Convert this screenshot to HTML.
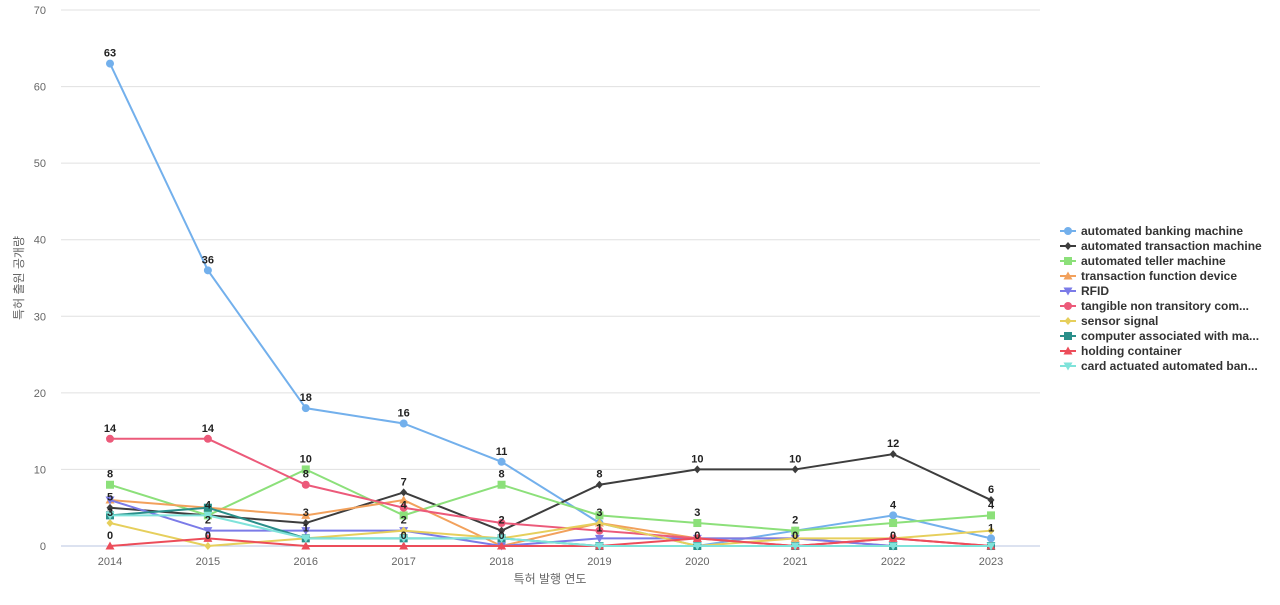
<!DOCTYPE html>
<html><head><meta charset="utf-8"><style>
body{margin:0;background:#fff;font-family:"Liberation Sans","Noto Sans CJK KR",sans-serif}
</style></head><body>
<svg id="c" width="1280" height="600" xmlns="http://www.w3.org/2000/svg"></svg>
<script>
const years=["2014","2015","2016","2017","2018","2019","2020","2021","2022","2023"];
const yTicks=[0,10,20,30,40,50,60,70];
const sNames=["automated banking machine","automated transaction machine","automated teller machine","transaction function device","RFID","tangible non transitory com...","sensor signal","computer associated with ma...","holding container","card actuated automated ban..."];
const sColors=["#73b0ec","#3d3d3d","#8ce07a","#f2a15c","#7b7be8","#ec5a7a","#e6cf5c","#2a8f8a","#ec4d5a","#7fe3da"];
const sMarkers=["circle","diamond","rect","triangle","tridown","circle","diamond","rect","triangle","tridown"];
const s0=[63,36,18,16,11,3,0,2,4,1];
const s1=[5,4,3,7,2,8,10,10,12,6];
const s2=[8,4,10,4,8,4,3,2,3,4];
const s3=[6,5,4,6,0,3,1,1,0,0];
const s4=[6,2,2,2,0,1,1,1,0,0];
const s5=[14,14,8,5,3,2,1,0,1,0];
const s6=[3,0,1,2,1,3,0,1,1,2];
const s7=[4,5,1,1,1,0,0,0,0,0];
const s8=[0,1,0,0,0,0,1,0,1,0];
const s9=[4,4,1,1,1,0,0,0,0,0];
const series=[s0,s1,s2,s3,s4,s5,s6,s7,s8,s9];
const svg=document.getElementById('c');const NS="http://www.w3.org/2000/svg";
function X(i){return 110+i*(991-110)/(years.length-1);}
function Y(v){return 546-v*(536/70);}
function mk(t,a,p){const e=document.createElementNS(NS,t);for(const k in a)e.setAttribute(k,a[k]);(p||svg).appendChild(e);return e;}
yTicks.forEach(v=>{
 const l=mk('line',{x1:61,x2:1040,y1:Y(v),y2:Y(v),stroke:v?'#e0e0e0':'#b8c6e0','stroke-width':1});
 
 
 const t=mk('text',{x:46,y:Y(v)+4,'text-anchor':'end','font-size':11,fill:'#666'});t.textContent=v;
 
 
});
years.forEach((y,i)=>{const t=mk('text',{x:X(i),y:565,'text-anchor':'middle','font-size':11,fill:'#666'});t.textContent=y;
 
 });
let t=mk('text',{x:550,y:583,'text-anchor':'middle','font-size':12,fill:'#666'});t.textContent='특허 발행 연도';


t=mk('text',{x:0,y:0,'text-anchor':'middle','font-size':12,fill:'#666',transform:'translate(23,278) rotate(-90)'});t.textContent='특허 출원 공개량';


function marker(type,x,y,c,g){
 let e;
 if(type==='circle')e=mk('circle',{cx:x,cy:y,r:4,fill:c},g);
 else if(type==='diamond')e=mk('polygon',{points:`${x},${y-4} ${x+3.5},${y} ${x},${y+4} ${x-3.5},${y}`,fill:c},g);
 else if(type==='rect')e=mk('rect',{x:x-4,y:y-4,width:8,height:8,fill:c},g);
 else if(type==='triangle')e=mk('polygon',{points:`${x},${y-4.5} ${x+4.5},${y+3.5} ${x-4.5},${y+3.5}`,fill:c},g);
 else e=mk('polygon',{points:`${x-4.5},${y-3.5} ${x+4.5},${y-3.5} ${x},${y+4.5}`,fill:c},g);
 return e;
}
const placed=[];
series.forEach((d,si)=>{
 const g=mk('g',{});
 const pl=mk('polyline',{points:d.map((v,i)=>X(i)+','+Y(v)).join(' '),fill:'none',stroke:sColors[si],'stroke-width':2},g);
 
 
 d.forEach((v,i)=>{const m=marker(sMarkers[si],X(i),Y(v),sColors[si],g);
  
  });
});
series.forEach((d,si)=>{
 d.forEach((v,i)=>{
  const x=X(i),y=Y(v)-7;
  if(placed.some(p=>Math.abs(p[0]-x)<14&&Math.abs(p[1]-y)<12))return;
  placed.push([x,y]);
  const l=mk('text',{x:x,y:y,'text-anchor':'middle','font-size':11,'font-weight':'bold',fill:'#222'});l.textContent=v;
  
  
 });
});
sNames.forEach((n,i)=>{
 const y=231+i*15;
 const g=mk('g',{});
 mk('line',{x1:1060,x2:1076,y1:y,y2:y,stroke:sColors[i],'stroke-width':2},g);
 marker(sMarkers[i],1068,y,sColors[i],g);
 const t=mk('text',{x:1081,y:y+4,'font-size':12,'font-weight':'bold',fill:'#333'},g);t.textContent=n;
});
</script></body></html>
